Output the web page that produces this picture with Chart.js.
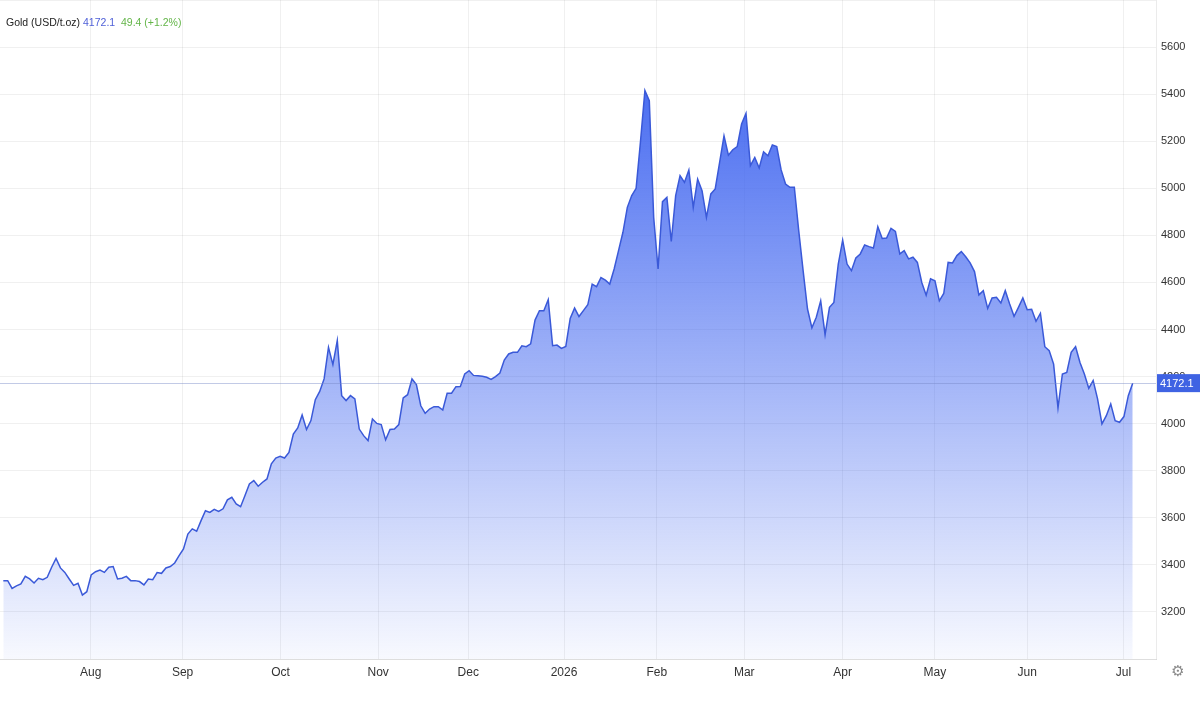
<!DOCTYPE html>
<html lang="en">
<head>
    <meta charset="UTF-8">
    <title>Gold (USD/t.oz)</title>
    <script src="https://cdn.jsdelivr.net/npm/chart.js"></script>
    <style>
        body {
            margin: 0;
            background: #fff;
            font-family: "Liberation Sans", Arial, sans-serif;
        }

        .wrap {
            position: relative;
            width: 1200px;
            height: 701px;
        }

        .legend {
            position: absolute;
            left: 6px;
            top: 16px;
            font-size: 10.5px;
            color: #222;
            white-space: pre;
        }

        .legend .last { color: #4f60d8; }
        .legend .chg { color: #63b548; }
    </style>
</head>
<body>
<div class="wrap">
    <canvas id="goldChart" width="1200" height="701"></canvas>
    <div class="legend">Gold (USD/t.oz) <span class="last">4172.1</span>  <span class="chg">49.4 (+1.2%)</span></div>
</div>

<script>
    // daily closes, Jul 2025 -> Jul 2026
    const prices = [
        3333, 3333, 3300, 3311, 3319, 3351, 3340, 3323, 3343, 3337,
        3347, 3390, 3427, 3387, 3368, 3340, 3313, 3322, 3272, 3286,
        3357, 3371, 3378, 3368, 3390, 3393, 3340, 3343, 3351, 3333,
        3333, 3329, 3315, 3340, 3337, 3367, 3364, 3387, 3393, 3408,
        3439, 3468, 3531, 3553, 3543, 3588, 3630, 3623, 3636, 3627,
        3638, 3676, 3687, 3659, 3647,
        3695, 3744, 3758, 3734, 3751, 3765, 3829, 3854, 3861, 3854,
        3878, 3956, 3982, 4037, 3975, 4013, 4102, 4137, 4190, 4324,
        4251, 4353, 4119, 4098, 4119, 4105, 3977, 3949, 3928, 4020,
        4001, 3996, 3931, 3975, 3977, 3996, 4109, 4123, 4190, 4166,
        4076, 4044, 4062, 4072, 4072, 4058, 4129, 4129, 4157, 4158,
        4211, 4225,
        4205, 4203, 4201, 4197, 4188, 4200, 4215, 4270, 4296, 4303,
        4303, 4331, 4327, 4339, 4440, 4480, 4480, 4527, 4331, 4334,
        4320, 4328, 4447, 4491, 4455, 4480, 4505, 4593, 4582, 4621,
        4610, 4593, 4657, 4735, 4813, 4919, 4969, 5000, 5200, 5415,
        5372, 4876, 4657, 4943, 4961, 4774, 4969, 5054, 5025, 5078,
        4919, 5039, 4990, 4876, 4976, 4997, 5110, 5223, 5141, 5164,
        5177, 5273, 5318, 5096, 5131, 5086, 5155, 5138, 5184, 5177,
        5078, 5018, 5004, 5004, 4820, 4650, 4487, 4407, 4452, 4522,
        4378, 4494, 4515, 4678, 4780, 4678, 4650, 4704, 4721, 4759,
        4752, 4746, 4837, 4787, 4789, 4830, 4817, 4721, 4735, 4700,
        4707, 4685, 4600, 4546, 4615, 4607, 4522, 4553, 4685, 4683,
        4714, 4731, 4709, 4683, 4646, 4547, 4565, 4490, 4534, 4537,
        4513, 4565, 4508, 4456, 4494, 4534, 4484, 4486, 4435, 4469,
        4327, 4310, 4253, 4067, 4211, 4218, 4303, 4327, 4260, 4211,
        4150, 4183, 4105, 3999, 4034, 4084, 4013, 4006, 4030, 4119,
        4172.1
    ];

    // month starts, in trading-day position
    const monthLabels = ['Aug', 'Sep', 'Oct', 'Nov', 'Dec', '2026', 'Feb', 'Mar', 'Apr', 'May', 'Jun', 'Jul'];
    const monthPos = [19.9, 40.8, 63.1, 85.3, 105.8, 127.6, 148.7, 168.6, 191.0, 212.0, 233.0, 254.9];

    const lastPrice = 4172.1;

    const gridColor = 'rgba(0, 0, 0, 0.06)';
    const fontFamily = '"Liberation Sans", Arial, sans-serif';

    function areaGradient(context) {
        const {ctx, chartArea} = context.chart;
        if (!chartArea) return 'rgba(66, 103, 240, 0.5)';
        const g = ctx.createLinearGradient(0, chartArea.top + 80, 0, chartArea.bottom);
        g.addColorStop(0, 'rgba(66, 103, 240, 0.97)');
        g.addColorStop(0.5, 'rgba(66, 103, 240, 0.5)');
        g.addColorStop(1, 'rgba(66, 103, 240, 0.04)');
        return g;
    }

    const lastPricePlugin = {
        id: 'lastPrice',
        afterDatasetsDraw(chart) {
            const {ctx, chartArea, scales} = chart;
            const y = Math.round(scales.y.getPixelForValue(lastPrice)) + 0.5;
            ctx.save();
            ctx.strokeStyle = 'rgba(120, 138, 200, 0.45)';
            ctx.lineWidth = 1;
            ctx.beginPath();
            ctx.moveTo(chartArea.left, y);
            ctx.lineTo(chartArea.right, y);
            ctx.stroke();
            ctx.restore();
        },
        afterDraw(chart) {
            const {ctx, chartArea, scales} = chart;
            const y = scales.y.getPixelForValue(lastPrice);
            ctx.save();
            ctx.fillStyle = '#3f63e3';
            ctx.fillRect(chartArea.right + 1, y - 9, chart.width - chartArea.right - 1, 18);
            ctx.fillStyle = '#fff';
            ctx.font = '11px ' + fontFamily;
            ctx.textBaseline = 'middle';
            ctx.fillText(lastPrice.toFixed(1), chartArea.right + 4, y + 0.5);
            // settings gear
            ctx.fillStyle = '#8a8a8a';
            ctx.font = '15px "DejaVu Sans"';
            ctx.textAlign = 'center';
            ctx.fillText('\u2699', 1178, 672);
            ctx.restore();
        }
    };

    new Chart(document.getElementById('goldChart'), {
        type: 'line',
        data: {
            datasets: [{
                label: 'Gold',
                data: prices.map((v, i) => ({x: i, y: v})),
                borderColor: '#3a59d8',
                borderWidth: 1.5,
                backgroundColor: areaGradient,
                fill: 'start',
                pointRadius: 0,
                tension: 0
            }]
        },
        options: {
            responsive: false,
            animation: false,
            layout: {padding: 0},
            plugins: {
                legend: {display: false},
                tooltip: {enabled: false}
            },
            scales: {
                x: {
                    type: 'linear',
                    min: -0.75,
                    max: 262.3,
                    afterBuildTicks: axis => {
                        axis.ticks = monthPos.map(v => ({value: v}));
                    },
                    afterFit: axis => {
                        axis.height = 42;
                        axis.paddingLeft = 0;
                        axis.paddingRight = 0;
                    },
                    grid: {color: gridColor, drawTicks: false},
                    border: {color: 'rgba(0, 0, 0, 0.08)'},
                    ticks: {
                        autoSkip: false,
                        maxRotation: 0,
                        padding: 6,
                        color: '#333',
                        font: {family: fontFamily, size: 12},
                        callback: (value, index) => monthLabels[index]
                    }
                },
                y: {
                    position: 'right',
                    min: 3000,
                    max: 5800,
                    afterFit: axis => {
                        axis.width = 44;
                        axis.paddingTop = 0;
                        axis.paddingBottom = 0;
                    },
                    grid: {color: gridColor, drawTicks: false},
                    border: {color: 'rgba(0, 0, 0, 0.08)'},
                    ticks: {
                        stepSize: 200,
                        padding: 5,
                        color: '#333',
                        font: {family: fontFamily, size: 11},
                        callback: v => (v <= 3000 || v >= 5800) ? '' : v
                    }
                }
            }
        },
        plugins: [lastPricePlugin]
    });
</script>
</body>
</html>
